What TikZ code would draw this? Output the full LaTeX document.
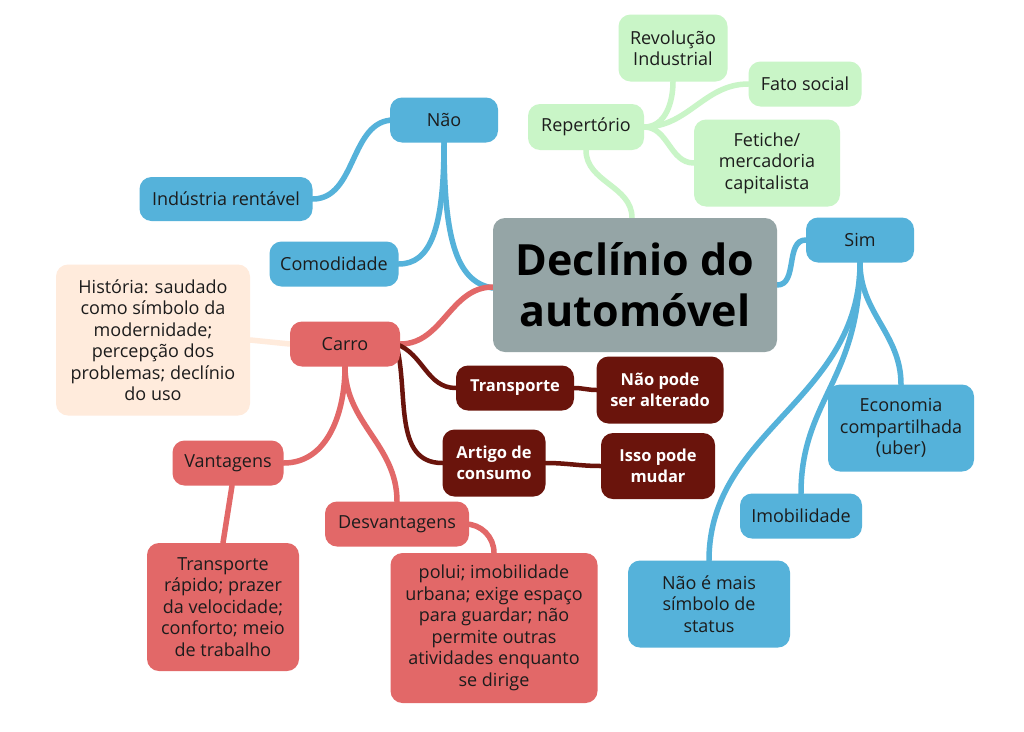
\documentclass[tikz,border=0pt]{standalone}
\usepackage{fontspec}
\setmainfont{Open Sans}
\definecolor{blu}{HTML}{55B2DA}
\definecolor{grn}{HTML}{C9F5C7}
\definecolor{titl}{HTML}{95A5A6}
\definecolor{red1}{HTML}{E26868}
\definecolor{dred}{HTML}{6A140C}
\definecolor{peach}{HTML}{FFEBDC}
\definecolor{txt}{HTML}{1C1C1C}
\pgfdeclarelayer{bg}
\pgfdeclarelayer{paper}
\pgfsetlayers{paper,bg,main}
\tikzset{
  box/.style={rounded corners=12pt, align=center, inner sep=0pt,
    font=\fontsize{18}{21.5}\selectfont, text=txt},
  bluebox/.style={box, fill=blu},
  grnbox/.style={box, fill=grn},
  redbox/.style={box, fill=red1},
  dredbox/.style={box, fill=dred, text=white, font=\fontsize{16.5}{21.5}\selectfont\bfseries},
  conn/.style={line width=5.5pt, line cap=round},
  bluel/.style={conn, draw=blu},
  grnl/.style={conn, draw=grn},
  redl/.style={conn, draw=red1},
  dredl/.style={conn, draw=dred, line width=4.5pt},
  peachl/.style={conn, draw=peach},
}
\begin{document}
\begin{tikzpicture}[x=1pt,y=-1pt]
\begin{pgfonlayer}{paper}
\fill[white] (0,0) rectangle (1024,731);
\end{pgfonlayer}
\useasboundingbox (0,0) rectangle (1024,731);

% central topic
\node[box, fill=titl, text=black, minimum width=284pt, minimum height=134pt,
  font=\fontsize{43}{51}\selectfont\bfseries] (title) at (635,285) {Declínio do\\automóvel};

% blue "Não" branch
\node[bluebox, minimum width=108pt, minimum height=45pt] (nao) at (444,120) {Não};
\node[bluebox, minimum width=173pt, minimum height=44pt] (ind) at (226,199) {Indústria rentável};
\node[bluebox, minimum width=129pt, minimum height=45pt] (comod) at (334,264) {Comodidade};

% green branch
\node[grnbox, minimum width=116pt, minimum height=46pt] (rep) at (586,127) {Repertório};
\node[grnbox, minimum width=109pt, minimum height=67pt] (rev) at (673,48) {Revolução\\Industrial};
\node[grnbox, minimum width=113pt, minimum height=45pt] (fato) at (805,84) {Fato social};
\node[grnbox, minimum width=146pt, minimum height=87pt] (fet) at (767,163) {Fetiche/\\mercadoria\\capitalista};

% blue "Sim" branch
\node[bluebox, minimum width=108pt, minimum height=45pt] (sim) at (860,240) {Sim};
\node[bluebox, minimum width=146pt, minimum height=87pt] (econ) at (901,428) {Economia\\compartilhada\\(uber)};
\node[bluebox, minimum width=122pt, minimum height=45pt] (imob) at (801,516) {Imobilidade};
\node[bluebox, minimum width=162pt, minimum height=87pt] (naomais) at (709,604) {Não é mais\\símbolo de\\status};

% red "Carro" branch
\node[redbox, minimum width=110pt, minimum height=45pt] (carro) at (345,344) {Carro};
\node[box, fill=peach, minimum width=194pt, minimum height=151pt] (hist) at (153,340)
  {História: saudado\\como símbolo da\\modernidade;\\percepção dos\\problemas; declínio\\do uso};
\node[redbox, minimum width=111pt, minimum height=45pt] (vant) at (228,463) {Vantagens};
\node[redbox, minimum width=152pt, minimum height=128pt] (rapido) at (223,607)
  {Transporte\\rápido; prazer\\da velocidade;\\conforto; meio\\de trabalho};
\node[redbox, minimum width=144pt, minimum height=45pt] (desv) at (397,524) {Desvantagens};
\node[redbox, minimum width=207pt, minimum height=150pt] (polui) at (494,628)
  {polui; imobilidade\\urbana; exige espaço\\para guardar; não\\permite outras\\atividades enquanto\\se dirige};

% dark red nodes
\node[dredbox, minimum width=118pt, minimum height=45pt] (transp) at (515,388) {Transporte};
\node[dredbox, minimum width=127pt, minimum height=67pt] (naopode) at (660,390) {Não pode\\ser alterado};
\node[dredbox, minimum width=103pt, minimum height=67pt] (artigo) at (494,463) {Artigo de\\consumo};
\node[dredbox, minimum width=114pt, minimum height=66pt] (isso) at (658,466) {Isso pode\\mudar};

\begin{pgfonlayer}{bg}
  % Não
  \draw[bluel] (nao.south) .. controls (444,235) and (455,282) .. ([yshift=-3pt]title.west);
  \draw[bluel] (nao.south) .. controls (444,230) and (430,264) .. (comod.east);
  \draw[bluel] ([xshift=4pt]nao.west) to[out=180,in=0] (ind.east);
  % Repertório
  \draw[grnl] (rep.south) to[out=-90,in=90] ([xshift=-3pt]title.north);
  \draw[grnl] (rep.east) to[out=0,in=-90] (rev.south);
  \draw[grnl] (rep.east) to[out=0,in=180] (fato.west);
  \draw[grnl] (rep.east) to[out=0,in=180] (fet.west);
  % Sim
  \draw[bluel] (title.east) to[out=0,in=180] (sim.west);
  \draw[bluel] (sim.south) to[out=-90,in=90] (econ.north);
  \draw[bluel] (sim.south) .. controls (860,380) and (801,400) .. (imob.north);
  \draw[bluel] (sim.south) .. controls (860,400) and (709,430) .. (naomais.north);
  % Carro
  \draw[redl] ([yshift=-2pt]title.west) to[out=180,in=0] (carro.east);
  \draw[peachl] (carro.west) -- (hist.east);
  \draw[redl] (carro.south) to[out=-90,in=0] (vant.east);
  \draw[redl] (carro.south) to[out=-90,in=90] (desv.north);
  \draw[redl] ([xshift=4pt]vant.south) -- (rapido.north);
  \draw[redl] ([xshift=-4pt]desv.east) to[out=0,in=90] (polui.north);
  % dark red
  \draw[dredl] ([xshift=-4pt]carro.east) to[out=-20,in=180] (transp.west);
  \draw[dredl] ([xshift=-4pt]carro.east) to[out=-75,in=180] (artigo.west);
  \draw[dredl] (transp.east) to[out=0,in=180] (naopode.west);
  \draw[dredl] (artigo.east) to[out=0,in=180] (isso.west);
\end{pgfonlayer}
\end{tikzpicture}
\end{document}
